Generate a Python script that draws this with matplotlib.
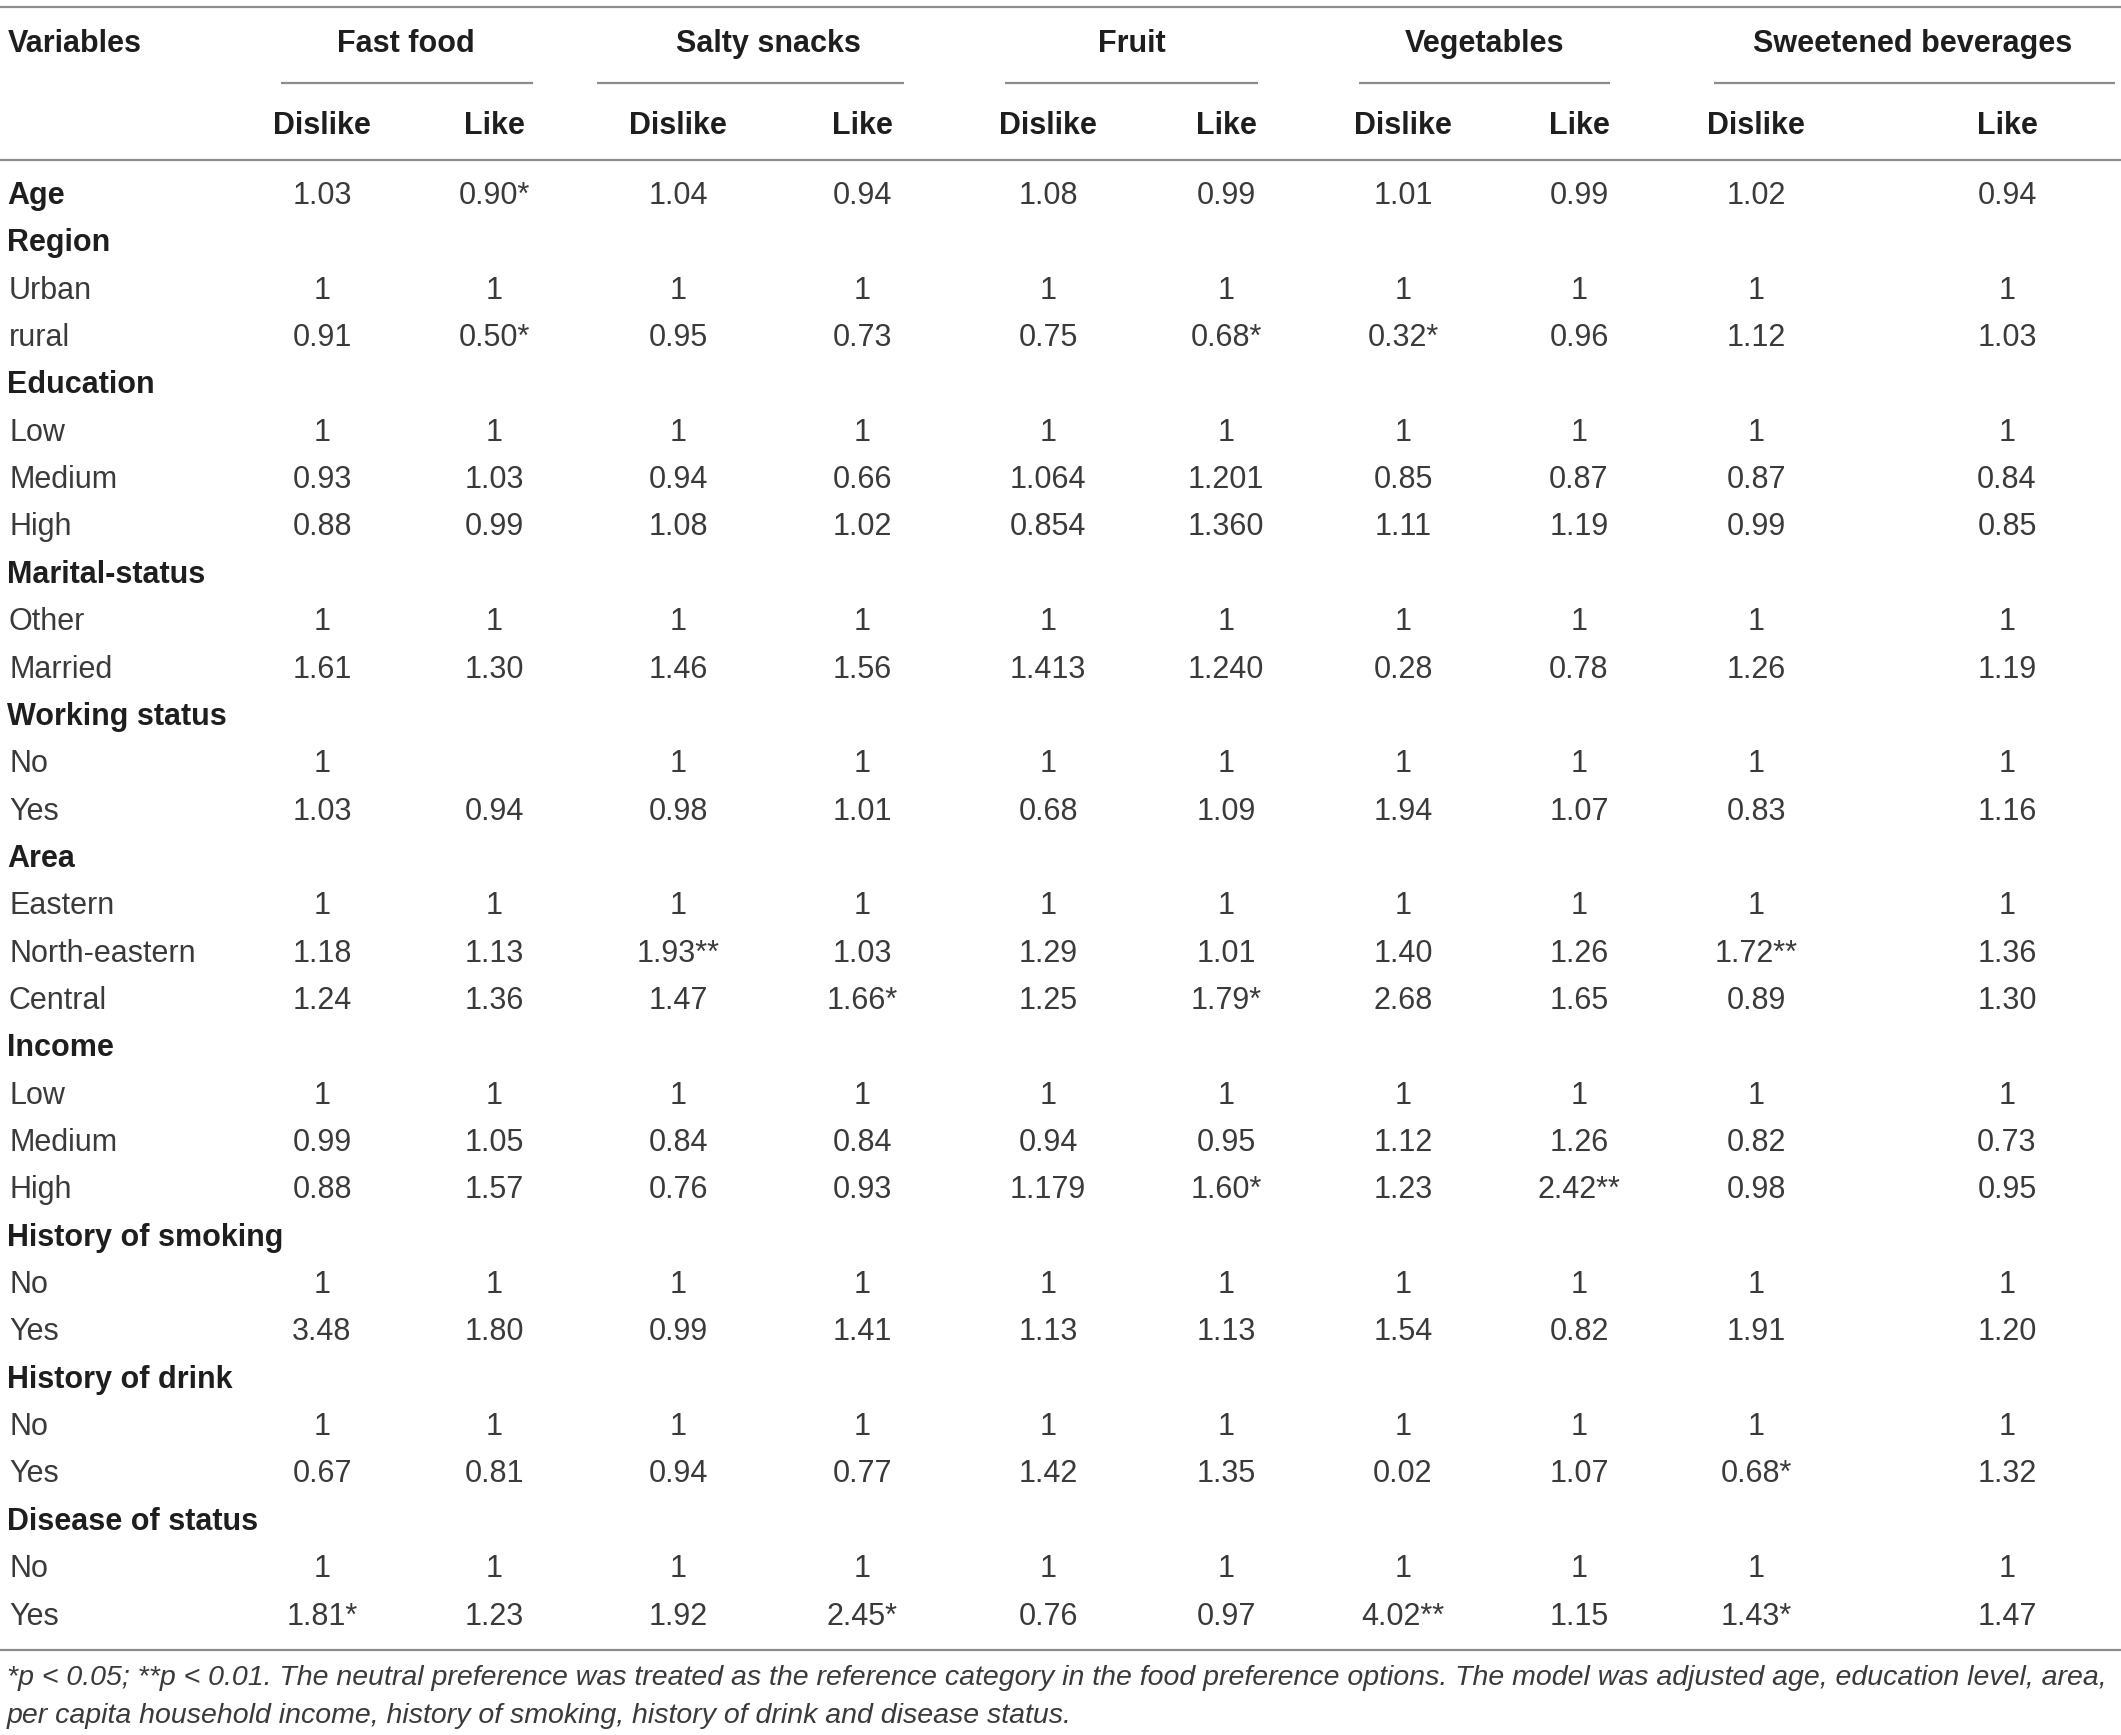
import matplotlib
matplotlib.use("Agg")
import matplotlib.pyplot as plt

# table content
groups = ["Fast food", "Salty snacks", "Fruit", "Vegetables", "Sweetened beverages"]
subcols = ["Dislike", "Like"]

variables = ["Age", "Region", "Urban", "rural", "Education", "Low", "Medium", "High",
             "Marital-status", "Other", "Married", "Working status", "No", "Yes",
             "Area", "Eastern", "North-eastern", "Central", "Income", "Low", "Medium",
             "High", "History of smoking", "No", "Yes", "History of drink", "No", "Yes",
             "Disease of status", "No", "Yes"]
bold_rows = {0, 1, 4, 8, 11, 14, 18, 22, 25, 28}

fast_dislike = ["1.03", "", "1", "0.91", "", "1", "0.93", "0.88", "", "1", "1.61", "", "1", "1.03",
                "", "1", "1.18", "1.24", "", "1", "0.99", "0.88", "", "1", "3.48", "", "1", "0.67",
                "", "1", "1.81*"]
fast_like = ["0.90*", "", "1", "0.50*", "", "1", "1.03", "0.99", "", "1", "1.30", "", "", "0.94",
             "", "1", "1.13", "1.36", "", "1", "1.05", "1.57", "", "1", "1.80", "", "1", "0.81",
             "", "1", "1.23"]
salty_dislike = ["1.04", "", "1", "0.95", "", "1", "0.94", "1.08", "", "1", "1.46", "", "1", "0.98",
                 "", "1", "1.93**", "1.47", "", "1", "0.84", "0.76", "", "1", "0.99", "", "1", "0.94",
                 "", "1", "1.92"]
salty_like = ["0.94", "", "1", "0.73", "", "1", "0.66", "1.02", "", "1", "1.56", "", "1", "1.01",
              "", "1", "1.03", "1.66*", "", "1", "0.84", "0.93", "", "1", "1.41", "", "1", "0.77",
              "", "1", "2.45*"]
fruit_dislike = ["1.08", "", "1", "0.75", "", "1", "1.064", "0.854", "", "1", "1.413", "", "1", "0.68",
                 "", "1", "1.29", "1.25", "", "1", "0.94", "1.179", "", "1", "1.13", "", "1", "1.42",
                 "", "1", "0.76"]
fruit_like = ["0.99", "", "1", "0.68*", "", "1", "1.201", "1.360", "", "1", "1.240", "", "1", "1.09",
              "", "1", "1.01", "1.79*", "", "1", "0.95", "1.60*", "", "1", "1.13", "", "1", "1.35",
              "", "1", "0.97"]
veg_dislike = ["1.01", "", "1", "0.32*", "", "1", "0.85", "1.11", "", "1", "0.28", "", "1", "1.94",
               "", "1", "1.40", "2.68", "", "1", "1.12", "1.23", "", "1", "1.54", "", "1", "0.02",
               "", "1", "4.02**"]
veg_like = ["0.99", "", "1", "0.96", "", "1", "0.87", "1.19", "", "1", "0.78", "", "1", "1.07",
            "", "1", "1.26", "1.65", "", "1", "1.26", "2.42**", "", "1", "0.82", "", "1", "1.07",
            "", "1", "1.15"]
sweet_dislike = ["1.02", "", "1", "1.12", "", "1", "0.87", "0.99", "", "1", "1.26", "", "1", "0.83",
                 "", "1", "1.72**", "0.89", "", "1", "0.82", "0.98", "", "1", "1.91", "", "1", "0.68*",
                 "", "1", "1.43*"]
sweet_like = ["0.94", "", "1", "1.03", "", "1", "0.84", "0.85", "", "1", "1.19", "", "1", "1.16",
              "", "1", "1.36", "1.30", "", "1", "0.73", "0.95", "", "1", "1.20", "", "1", "1.32",
              "", "1", "1.47"]

columns = [fast_dislike, fast_like, salty_dislike, salty_like, fruit_dislike, fruit_like,
           veg_dislike, veg_like, sweet_dislike, sweet_like]

footnote = ("*p < 0.05; **p < 0.01. The neutral preference was treated as the reference category "
            "in the food preference options. The model was adjusted age, education level, area,\n"
            "per capita household income, history of smoking, history of drink and disease status.")

# layout (pixel units)
W, H = 2121, 1735
col_x = [322, 494, 678, 862, 1048, 1226, 1403, 1579, 1756, 2007]
group_x = [406, 768, 1132, 1485, 1913]
group_span = [(281, 533), (597, 904), (1005, 1258), (1359, 1610), (1714, 2115)]
row0, row_step = 196, 47.35

fam = ["Liberation Sans", "DejaVu Sans"]
fs = 22
dark = "#1e1e1e"
num_c = "#3a3a3a"
rule_c = "#8c8c8c"

fig = plt.figure(figsize=(W / 100, H / 100), dpi=100)
ax = fig.add_axes([0, 0, 1, 1])
ax.set_xlim(0, W)
ax.set_ylim(H, 0)
ax.axis("off")

ax.hlines([7, 160, 1650], 0, W, color=rule_c, lw=1.6)
for a, b in group_span:
    ax.hlines(83, a, b, color=rule_c, lw=1.6)

ax.text(8, 44, "Variables", ha="left", va="center", fontsize=fs, fontweight="bold",
        family=fam, color=dark)
for g, x in zip(groups, group_x):
    ax.text(x, 44, g, ha="center", va="center", fontsize=fs, fontweight="bold",
            family=fam, color=dark)
for i, x in enumerate(col_x):
    ax.text(x, 126, subcols[i % 2], ha="center", va="center", fontsize=fs,
            fontweight="bold", family=fam, color=dark)

for r, label in enumerate(variables):
    y = row0 + r * row_step
    if r in bold_rows:
        ax.text(7, y, label, ha="left", va="center", fontsize=fs, fontweight="bold",
                family=fam, color=dark)
    else:
        ax.text(9, y, label, ha="left", va="center", fontsize=fs, family=fam, color=num_c)
    for c, x in enumerate(col_x):
        val = columns[c][r]
        if val:
            ax.text(x, y, val, ha="center", va="center", fontsize=fs, family=fam, color=num_c)

ax.text(7, 1697, footnote, ha="left", va="center", fontsize=20.5, style="italic",
        family=fam, color=num_c, linespacing=1.62)

fig.savefig("out.png", dpi=100)
